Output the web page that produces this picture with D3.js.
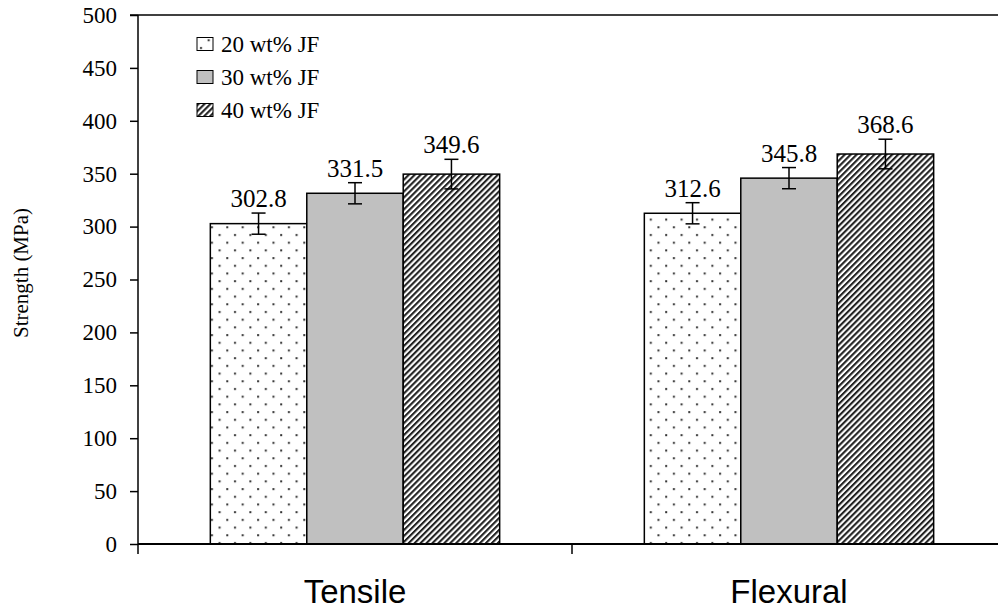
<!DOCTYPE html>
<html>
<head>
<meta charset="utf-8">
<script src="https://cdn.jsdelivr.net/npm/d3@7"></script>
<style>
  body { margin: 0; background: #fff; }
  svg { display: block; }
  .serif { font-family: "Liberation Serif", "Times New Roman", serif; }
</style>
</head>
<body>
<svg></svg>
<script>
var width = 998;
var height = 611;

// data
var categories = ['Tensile', 'Flexural'];
var series = ['20 wt% JF', '30 wt% JF', '40 wt% JF'];
var tensile = [302.8, 331.5, 349.6];
var flexural = [312.6, 345.8, 368.6];
var tensileErr = [10, 10, 14];
var flexuralErr = [10, 10, 14];
var yTicks = [0, 50, 100, 150, 200, 250, 300, 350, 400, 450, 500];

var values = [tensile, flexural];
var errors = [tensileErr, flexuralErr];

var rows = [];
categories.forEach(function(c, i) {
   series.forEach(function(s, j) {
      rows.push({ cat: c, ser: s, idx: j, value: values[i][j], err: errors[i][j] });
   });
});

var svg = d3.select('svg')
   .attr('width', width)
   .attr('height', height);

var defs = svg.append('defs');

// dotted fill
var dots = defs.append('pattern')
   .attr('id', 'dots')
   .attr('patternUnits', 'userSpaceOnUse')
   .attr('width', 15.4)
   .attr('height', 15.4);
dots.append('rect').attr('width', 15.4).attr('height', 15.4).attr('fill', '#fff');
dots.append('rect').attr('x', 3).attr('y', 3).attr('width', 2).attr('height', 2).attr('fill', '#333');
dots.append('rect').attr('x', 10.7).attr('y', 10.7).attr('width', 2).attr('height', 2).attr('fill', '#333');

// diagonal hatch
var hatch = defs.append('pattern')
   .attr('id', 'hatch')
   .attr('patternUnits', 'userSpaceOnUse')
   .attr('width', 4.2)
   .attr('height', 4.2)
   .attr('patternTransform', 'rotate(45)');
hatch.append('rect').attr('width', 4.2).attr('height', 4.2).attr('fill', '#fff');
hatch.append('rect').attr('x', 0).attr('y', 0).attr('width', 2.1).attr('height', 4.2).attr('fill', '#222');

var fills = ['url(#dots)', '#c0c0c0', 'url(#hatch)'];

var x0 = d3.scaleBand()
   .domain(categories)
   .range([138, 1006]);

var bw = x0.bandwidth();
var x1 = d3.scaleBand()
   .domain(series)
   .range([bw / 6, bw * 5 / 6]);

var y = d3.scaleLinear()
   .domain([0, 500])
   .range([544, 15]);

// top frame line
svg.append('line')
   .attr('x1', 130).attr('x2', width)
   .attr('y1', y(500)).attr('y2', y(500))
   .attr('stroke', '#000').attr('stroke-width', 1.5);

// bars
var bars = svg.append('g');
bars.selectAll('rect')
   .data(rows)
   .enter()
   .append('rect')
   .attr('x', function(d) { return x0(d.cat) + x1(d.ser); })
   .attr('y', function(d) { return y(d.value); })
   .attr('width', x1.bandwidth())
   .attr('height', function(d) { return y(0) - y(d.value); })
   .attr('fill', function(d) { return fills[d.idx]; })
   .attr('stroke', '#000')
   .attr('stroke-width', 1.5);

// error bars
var eb = svg.append('g')
   .attr('stroke', '#000')
   .attr('stroke-width', 1.5);

rows.forEach(function(d) {
   var cx = x0(d.cat) + x1(d.ser) + x1.bandwidth() / 2;
   eb.append('line')
      .attr('x1', cx).attr('x2', cx)
      .attr('y1', y(d.value + d.err)).attr('y2', y(d.value - d.err));
   eb.append('line')
      .attr('x1', cx - 7).attr('x2', cx + 7)
      .attr('y1', y(d.value + d.err)).attr('y2', y(d.value + d.err));
   eb.append('line')
      .attr('x1', cx - 7).attr('x2', cx + 7)
      .attr('y1', y(d.value - d.err)).attr('y2', y(d.value - d.err));
});

// value labels
svg.append('g')
   .attr('class', 'serif')
   .attr('font-size', 25)
   .selectAll('text')
   .data(rows)
   .enter()
   .append('text')
   .attr('x', function(d) { return x0(d.cat) + x1(d.ser) + x1.bandwidth() / 2; })
   .attr('y', function(d) { return y(d.value + d.err) - 6; })
   .attr('text-anchor', 'middle')
   .text(function(d) { return d.value.toFixed(1); });

// y axis
var yAxis = svg.append('g')
   .attr('transform', 'translate(138,0)')
   .call(d3.axisLeft(y).tickValues(yTicks).tickSize(8).tickPadding(13));
yAxis
   .attr('font-family', null)
   .attr('font-size', 23)
   .attr('class', 'serif');
yAxis.select('.domain')
   .attr('d', 'M0,' + y(500) + 'V' + (y(0) + 10))
   .attr('stroke-width', 1.5);
yAxis.selectAll('.tick line').attr('stroke-width', 1.5);
yAxis.selectAll('text').attr('fill', '#000');

// x axis
var xAxis = svg.append('g')
   .attr('transform', 'translate(0,' + y(0) + ')');
xAxis.append('line')
   .attr('x1', 138).attr('x2', width)
   .attr('stroke', '#000').attr('stroke-width', 2);
xAxis.selectAll('.cat-tick')
   .data(categories.slice(1))
   .enter()
   .append('line')
   .attr('x1', function(d) { return x0(d); })
   .attr('x2', function(d) { return x0(d); })
   .attr('y1', 0).attr('y2', 10)
   .attr('stroke', '#000').attr('stroke-width', 1.5);
xAxis.selectAll('.cat-label')
   .data(categories)
   .enter()
   .append('text')
   .attr('x', function(d) { return x0(d) + bw / 2; })
   .attr('y', 59)
   .attr('text-anchor', 'middle')
   .style('font-family', '"Liberation Sans", Arial, sans-serif')
   .style('font-size', '33px')
   .text(function(d) { return d; });

// y title
svg.append('text')
   .attr('class', 'serif')
   .attr('transform', 'translate(28,273) rotate(-90)')
   .attr('text-anchor', 'middle')
   .attr('font-size', 21)
   .text('Strength (MPa)');

// legend
var legend = svg.append('g')
   .selectAll('g')
   .data(series)
   .enter()
   .append('g')
   .attr('transform', function(d, i) { return 'translate(197,' + (44 + i * 33) + ')'; });
legend.append('rect')
   .attr('x', 0).attr('y', -6.5)
   .attr('width', 16).attr('height', 13)
   .attr('fill', function(d, i) { return fills[i]; })
   .attr('stroke', '#000')
   .attr('stroke-width', 1);
legend.append('text')
   .attr('class', 'serif')
   .attr('x', 24).attr('y', 8)
   .attr('font-size', 23)
   .text(function(d) { return d; });
</script>
</body>
</html>
